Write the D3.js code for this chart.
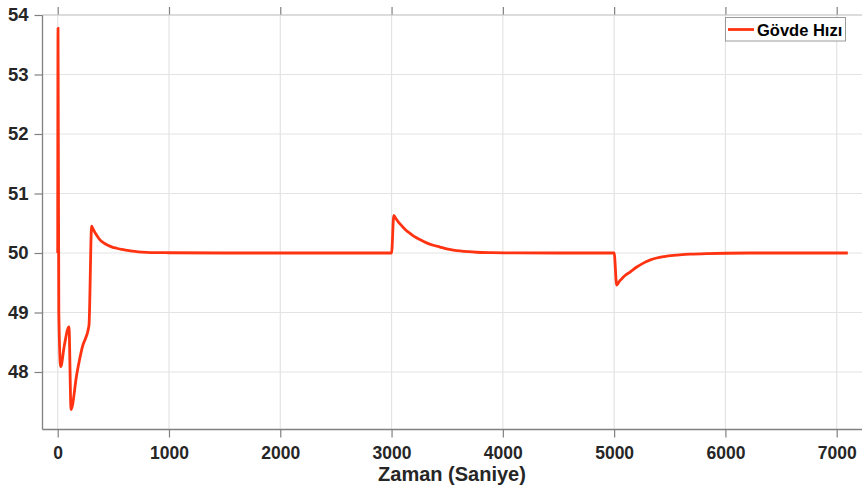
<!DOCTYPE html>
<html>
<head>
<meta charset="utf-8">
<script src="https://cdn.jsdelivr.net/npm/d3@7"></script>
<style>
  html, body { margin: 0; padding: 0; background: #ffffff; }
  svg { display: block; }
  text { font-family: "Liberation Sans", Arial, Helvetica, sans-serif; font-weight: bold; }
</style>
</head>
<body>
<svg id="chart" width="862" height="491"></svg>
<script>
// Gövde hızı (body speed) response over time
const timeSec = [0, 3, 10, 27, 60, 101, 120, 171, 220, 281, 305, 315, 330, 350, 380, 410, 450, 490, 530, 575, 620, 670, 724, 800, 900, 1000, 1500,
  2000, 2500, 3000, 3020, 3040, 3060, 3080, 3105, 3135, 3166, 3210, 3255, 3315, 3375, 3435, 3495, 3555, 3615, 3690, 3765, 3900, 4100, 4500,
  5000, 5023, 5035, 5052, 5075, 5100, 5143, 5200, 5262, 5320, 5382, 5450, 5532, 5610, 5682, 5832, 6000, 6300, 7100];
const speed = [50, 53.78, 49.0, 48.09, 48.45, 48.76, 47.37, 47.96, 48.41, 48.78, 50.45, 50.415, 50.36, 50.30, 50.22, 50.175, 50.13, 50.10, 50.08, 50.06, 50.045, 50.03, 50.02, 50.012, 50.007, 50.004, 50.0,
  50.0, 50.0, 50.0, 50.63, 50.575, 50.525, 50.48, 50.43, 50.375, 50.33, 50.27, 50.225, 50.17, 50.13, 50.10, 50.07, 50.05, 50.035, 50.022, 50.013, 50.006, 50.002, 50.0,
  50.0, 49.46, 49.49, 49.535, 49.58, 49.625, 49.68, 49.76, 49.83, 49.88, 49.916, 49.94, 49.96, 49.972, 49.98, 49.99, 49.996, 50.0, 50.0];

const xTicks = [0, 1000, 2000, 3000, 4000, 5000, 6000, 7000];
const yTicks = [48, 49, 50, 51, 52, 53, 54];
const seriesName = "Gövde Hızı";
const xTitle = "Zaman (Saniye)";

const svg = d3.select("#chart");
const plotLeft = 42.5, plotTop = 15, plotBottom = 429.5;

const x = d3.scaleLinear().domain([0, 7000]).range([57.7, 836.7]);
const y = d3.scaleLinear().domain([48, 54]).range([372, 15]);

const axisColor = "#808080";
const gridColor = "#e3e3e3";
const textColor = "#262626";
const lineColor = "#ff3311";

// grid
svg.append("g").selectAll("line").data(xTicks).join("line")
  .attr("x1", d => x(d)).attr("x2", d => x(d))
  .attr("y1", plotTop).attr("y2", plotBottom)
  .attr("stroke", gridColor).attr("stroke-width", 1.2);
svg.append("g").selectAll("line").data(yTicks).join("line")
  .attr("x1", plotLeft).attr("x2", 862)
  .attr("y1", d => y(d)).attr("y2", d => y(d))
  .attr("stroke", gridColor).attr("stroke-width", 1.2);

// bottom axis
const xAxis = d3.axisBottom(x).tickValues(xTicks).tickSize(8).tickPadding(9).tickFormat(d3.format("d"));
const gx = svg.append("g").attr("transform", `translate(0,${plotBottom})`).call(xAxis);
gx.select(".domain").remove();
gx.selectAll(".tick line").attr("stroke", axisColor).attr("stroke-width", 1.2);
gx.selectAll(".tick text").attr("fill", textColor).attr("font-size", 17.5);

// top ticks (mirrored, outward)
const gxt = svg.append("g").attr("transform", `translate(0,${plotTop})`)
  .call(d3.axisTop(x).tickValues(xTicks).tickSize(8).tickFormat(""));
gxt.select(".domain").remove();
gxt.selectAll(".tick line").attr("stroke", axisColor).attr("stroke-width", 1.2);

// left axis
const yAxis = d3.axisLeft(y).tickValues(yTicks).tickSize(8).tickPadding(6).tickFormat(d3.format("d"));
const gy = svg.append("g").attr("transform", `translate(${plotLeft},0)`).call(yAxis);
gy.select(".domain").remove();
gy.selectAll(".tick line").attr("stroke", axisColor).attr("stroke-width", 1.2);
gy.selectAll(".tick text").attr("fill", textColor).attr("font-size", 18.5);

// frame
svg.append("line").attr("x1", plotLeft).attr("x2", plotLeft).attr("y1", plotTop).attr("y2", plotBottom)
  .attr("stroke", axisColor).attr("stroke-width", 1.3);
svg.append("line").attr("x1", plotLeft).attr("x2", 862).attr("y1", plotBottom).attr("y2", plotBottom)
  .attr("stroke", axisColor).attr("stroke-width", 1.3);
svg.append("line").attr("x1", plotLeft).attr("x2", 862).attr("y1", plotTop).attr("y2", plotTop)
  .attr("stroke", "#c8c8c8").attr("stroke-width", 1.2);

// series
const pts = timeSec.map((t, i) => [t, speed[i]]);
const line = d3.line().x(d => x(d[0])).y(d => y(d[1])).curve(d3.curveMonotoneX);
svg.append("path").datum(pts)
  .attr("d", line)
  .attr("fill", "none")
  .attr("stroke", lineColor)
  .attr("stroke-width", 2.8)
  .attr("stroke-linejoin", "round");

// x title
svg.append("text").attr("x", 452).attr("y", 481).attr("text-anchor", "middle")
  .attr("font-size", 20).attr("fill", textColor).text(xTitle);

// legend
const lg = svg.append("g");
lg.append("rect").attr("x", 725.5).attr("y", 17.5).attr("width", 120).attr("height", 23.5)
  .attr("fill", "#ffffff").attr("stroke", "#9a9a9a").attr("stroke-width", 1);
lg.append("line").attr("x1", 728).attr("x2", 754).attr("y1", 29.5).attr("y2", 29.5)
  .attr("stroke", lineColor).attr("stroke-width", 2.8);
lg.append("text").attr("x", 757).attr("y", 35.5).attr("font-size", 16.5).attr("fill", "#000000").text(seriesName);
</script>
</body>
</html>
